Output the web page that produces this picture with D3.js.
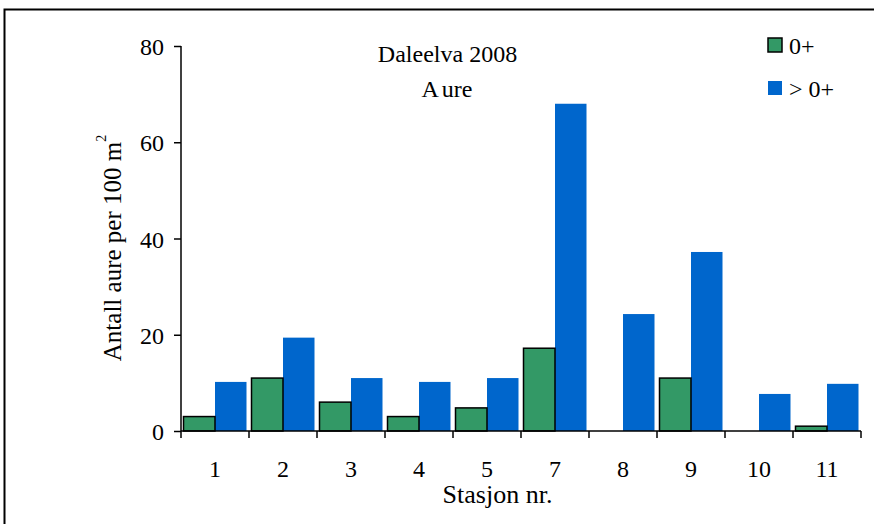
<!DOCTYPE html>
<html><head><meta charset="utf-8">
<script src="https://d3js.org/d3.v7.min.js"></script>
<style>body{margin:0;background:#fff}svg{display:block}text{font-family:"Liberation Serif","Times New Roman",serif;fill:#000}</style>
</head><body><svg id="c" width="874" height="524"></svg>
<script>
const categories = ["1","2","3","4","5","7","8","9","10","11"];
const series0 = [3, 11, 6, 3, 4.8, 17.2, 0, 11, 0, 1];
const seriesOlder = [10.2, 19.4, 11, 10.2, 11, 68, 24.3, 37.2, 7.7, 9.8];
const seriesNames = ["0+", "> 0+"];
const yTicks = [0, 20, 40, 60, 80];
const colors = ["#339966", "#0066CC"];

(function () {
const svg = d3.select("#c");
// outer frame
svg.append("path").attr("d","M4.5,524 V9.5 H874").attr("fill","none").attr("stroke","#000").attr("stroke-width",2);

const pl = 181, pr = 861, pt = 46, pb = 431;
const x = d3.scaleBand().domain(categories).range([pl, pr]).paddingInner(0).paddingOuter(0);
const y = d3.scaleLinear().domain([0, 80]).range([pb, pt]);
const bw = 31.5;

const g = svg.append("g");
categories.forEach((c, i) => {
  const x0 = x(c) + (x.bandwidth() - 2 * bw) / 2;
  g.append("rect").attr("x", x0 + bw).attr("y", y(seriesOlder[i])).attr("width", bw)
    .attr("height", pb - y(seriesOlder[i])).attr("fill", colors[1]);
  if (series0[i] > 0) {
    g.append("rect").attr("x", x0).attr("y", y(series0[i])).attr("width", bw)
      .attr("height", pb - y(series0[i])).attr("fill", colors[0]).attr("stroke", "#000").attr("stroke-width", 1.5);
  }
});

// y axis
const ya = svg.append("g").attr("transform", `translate(${pl},0)`)
  .call(d3.axisLeft(y).tickValues(yTicks).tickSize(7).tickPadding(10));
ya.selectAll("text").attr("font-size", 24).attr("dy", "0.36em");
ya.selectAll("line,path").attr("stroke", "#000").attr("stroke-width", 1.5);
ya.select(".domain").attr("d", `M0,${pt}V${pb}`);

// x axis
const xa = svg.append("g").attr("transform", `translate(0,${pb})`)
  .call(d3.axisBottom(x).tickSize(0).tickPadding(29));
xa.select(".domain").remove();
xa.selectAll("text").attr("font-size", 24);
svg.append("line").attr("x1", pl).attr("x2", pr).attr("y1", pb).attr("y2", pb).attr("stroke", "#000").attr("stroke-width", 1.5);
const boundaries = categories.map(c => x(c)).concat([pr]);
svg.selectAll(".bt").data(boundaries).enter().append("line")
  .attr("x1", d => d).attr("x2", d => d).attr("y1", pb).attr("y2", pb + 7)
  .attr("stroke", "#000").attr("stroke-width", 1.5);

// titles
svg.append("text").attr("x", 447.5).attr("y", 62).attr("text-anchor", "middle").attr("font-size", 24).text("Daleelva 2008");
const t2 = svg.append("text").attr("x", 447).attr("y", 97).attr("text-anchor", "middle").attr("font-size", 24);
t2.append("tspan").text("A");
t2.append("tspan").attr("dx", 3).text("ure");
svg.append("text").attr("x", 497.5).attr("y", 503).attr("text-anchor", "middle").attr("font-size", 26).text("Stasjon nr.");
const yt = svg.append("text").attr("transform", "translate(121,248) rotate(-90)").attr("text-anchor", "middle").attr("font-size", 25);
yt.append("tspan").text("Antall aure per 100 m");
yt.append("tspan").attr("dy", -15).attr("font-size", 14).text("2");

// legend
const lg = svg.append("g");
seriesNames.forEach((n, i) => {
  const yy = 38 + i * 43;
  lg.append("rect").attr("x", 768).attr("y", yy).attr("width", 14).attr("height", 14)
    .attr("fill", colors[i]).attr("stroke", i === 0 ? "#000" : "none").attr("stroke-width", 1.5);
  lg.append("text").attr("x", 789).attr("y", yy + 16).attr("font-size", 24).text(n);
});
})();
</script></body></html>
